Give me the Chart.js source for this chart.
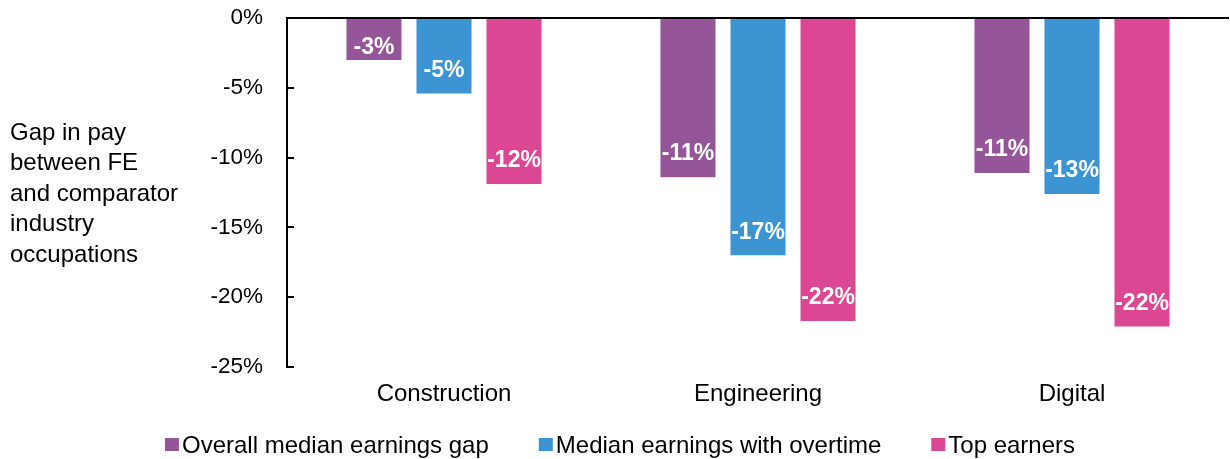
<!DOCTYPE html>
<html>
<head>
<meta charset="utf-8">
<script src="https://cdn.jsdelivr.net/npm/chart.js@4"></script>
<style>
  html, body { margin: 0; padding: 0; background: #fff; }
  #wrap { width: 1230px; height: 459px; position: relative; }
</style>
</head>
<body>
<div id="wrap"><canvas id="gapChart"></canvas></div>
<script>
// Data (% gap in pay)
const categories = ['Construction', 'Engineering', 'Digital'];
const seriesNames = ['Overall median earnings gap', 'Median earnings with overtime', 'Top earners'];
const overallGap = [-3.0, -11.4, -11.1];
const overtimeGap = [-5.4, -17.0, -12.6];
const topEarnersGap = [-11.9, -21.7, -22.1];
const yTicks = [0, -5, -10, -15, -20, -25];
const yTitleLines = ['Gap in pay', 'between FE', 'and comparator', 'industry', 'occupations'];

const colors = ['#955699', '#3C94D2', '#DB4793'];
const FONT = '"Liberation Sans", Arial, sans-serif';

// White bold value labels near the bottom end of each bar
const barLabels = {
    id: 'barLabels',
    afterDatasetsDraw(chart) {
        const ctx = chart.ctx;
        ctx.save();
        ctx.font = 'bold 23px ' + FONT;
        ctx.fillStyle = '#ffffff';
        ctx.textAlign = 'center';
        ctx.textBaseline = 'middle';
        chart.data.datasets.forEach((ds, i) => {
            chart.getDatasetMeta(i).data.forEach((bar, j) => {
                const end = bar.y, base = bar.base;
                const y = Math.max(end - 23, base + (end - base) * 0.7);
                ctx.fillText(Math.round(ds.data[j]) + '%', bar.x, y);
            });
        });
        ctx.restore();
    }
};

// Inside tick marks on the y axis + horizontal axis title
const axisExtras = {
    id: 'axisExtras',
    afterDraw(chart) {
        const ctx = chart.ctx;
        const y = chart.scales.y;
        const left = chart.chartArea.left;
        ctx.save();
        ctx.strokeStyle = '#000';
        ctx.lineWidth = 2;
        y.ticks.forEach(t => {
            const py = Math.round(y.getPixelForValue(t.value));
            ctx.beginPath();
            ctx.moveTo(left, py);
            ctx.lineTo(left + 7, py);
            ctx.stroke();
        });
        ctx.font = '24px ' + FONT;
        ctx.fillStyle = '#000';
        ctx.textAlign = 'left';
        ctx.textBaseline = 'middle';
        yTitleLines.forEach((line, i) => ctx.fillText(line, 10, 133 + i * 30.5));
        ctx.restore();
    }
};

// Legend drawn along the bottom
const bottomLegend = {
    id: 'bottomLegend',
    afterDraw(chart) {
        const ctx = chart.ctx;
        ctx.save();
        ctx.font = '24px ' + FONT;
        ctx.textBaseline = 'middle';
        ctx.textAlign = 'left';
        const box = 14, gapText = 3, gapItem = 50;
        const items = chart.data.datasets.map(ds => ({
            label: ds.label, color: ds.backgroundColor, w: ctx.measureText(ds.label).width
        }));
        const total = items.reduce((s, it) => s + box + gapText + it.w, 0) + gapItem * (items.length - 1);
        let x = 620 - total / 2;
        const cy = 445;
        items.forEach(it => {
            ctx.fillStyle = it.color;
            ctx.fillRect(x, cy - 7, box, 13);
            ctx.fillStyle = '#000';
            ctx.fillText(it.label, x + box + gapText, cy + 1);
            x += box + gapText + it.w + gapItem;
        });
        ctx.restore();
    }
};

const seriesData = [overallGap, overtimeGap, topEarnersGap];

new Chart(document.getElementById('gapChart'), {
    type: 'bar',
    data: {
        labels: categories,
        datasets: seriesNames.map((name, i) => ({
            label: name,
            data: seriesData[i],
            backgroundColor: colors[i],
            borderWidth: 0,
            categoryPercentage: 0.669,
            barPercentage: 0.786
        }))
    },
    options: {
        responsive: true,
        maintainAspectRatio: false,
        animation: false,
        layout: {
            padding: { top: 18, right: 1, bottom: 0, left: 0 }
        },
        plugins: {
            legend: { display: false },
            tooltip: { enabled: false }
        },
        scales: {
            x: {
                grid: { display: false, drawTicks: false },
                border: { display: false },
                ticks: {
                    color: '#000',
                    font: { family: FONT, size: 24 },
                    padding: 13
                },
                afterFit(scale) {
                    scale.height = 92;
                    scale.paddingLeft = 0;
                    scale.paddingRight = 0;
                }
            },
            y: {
                min: -25,
                max: 0,
                afterBuildTicks(scale) {
                    scale.ticks = yTicks.map(v => ({ value: v }));
                },
                grid: {
                    drawTicks: false,
                    color: c => (c.tick && c.tick.value === 0 ? '#000' : 'rgba(0,0,0,0)'),
                    lineWidth: 2
                },
                border: { display: true, color: '#000', width: 2 },
                ticks: {
                    color: '#000',
                    font: { family: FONT, size: 22.5 },
                    padding: 24,
                    callback: v => v + '%'
                },
                afterFit(scale) {
                    scale.width = 287;
                    scale.paddingTop = 0;
                    scale.paddingBottom = 0;
                }
            }
        }
    },
    plugins: [barLabels, axisExtras, bottomLegend]
});
</script>
</body>
</html>
